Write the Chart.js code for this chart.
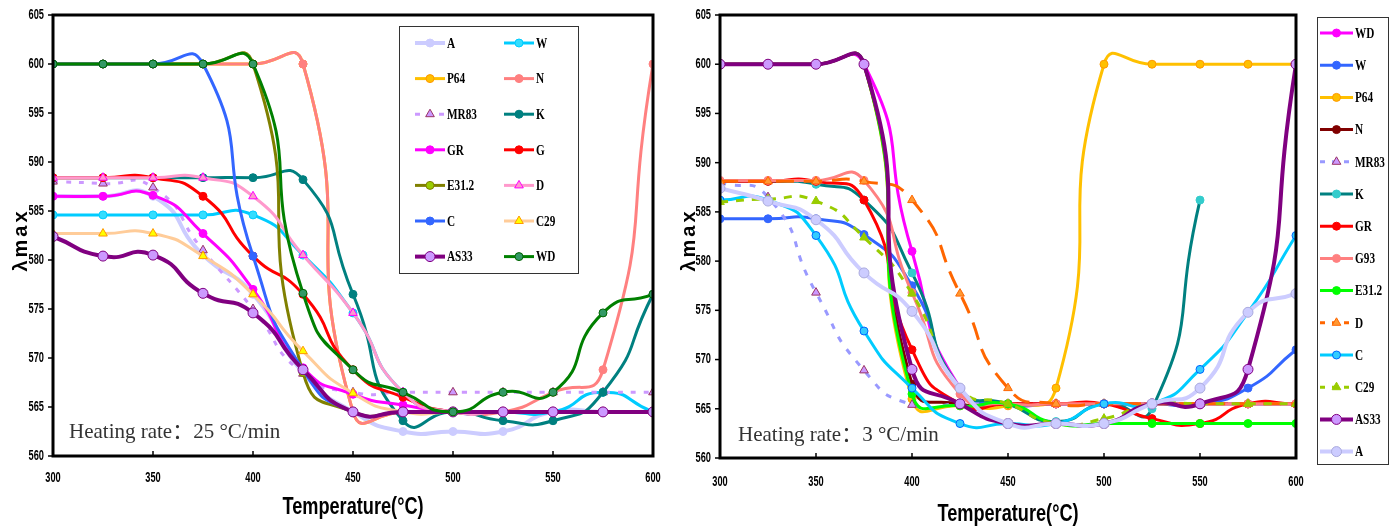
<!DOCTYPE html>
<html lang="en">
<head>
<meta charset="UTF-8">
<title>λmax vs Temperature</title>
<script src="https://cdn.jsdelivr.net/npm/chart.js"></script>
<style>
  html, body { margin: 0; padding: 0; background: #fff; }
  #wrap { position: relative; width: 1398px; height: 526px; overflow: hidden; }
  .layer { position: absolute; left: 0; top: 0; width: 1398px; height: 526px; }
</style>
</head>
<body>
<div id="wrap">
  <div class="layer"><canvas id="chartLeft"></canvas></div>
  <div class="layer"><canvas id="chartRight"></canvas></div>
</div>
<script>
// x positions (°C) shared by every series
const temps = [300, 325, 350, 375, 400, 425, 450, 475, 500, 525, 550, 575, 600];
const yRange = [560, 605];
const xRange = [300, 600];

// ---- left panel : heating rate 25 °C/min ----
const leftA    = [586.5, 586.5, 586.5, 580.5, 576.5, 568.5, 564.5, 562.5, 562.5, 562.5, 564.5, 564.5, 564.5];
const leftW    = [584.6, 584.6, 584.6, 584.6, 584.6, 580.5, 574.6, 566.5, 564.5, 564.5, 564.5, 566.5, 564.5];
const leftP64  = [600, 600, 600, 600, 600, 600, 564.5, 564.5, 564.5, 564.5, 564.5, 564.5, 564.5];
const leftN    = [600, 600, 600, 600, 600, 600, 564.5, 564.5, 564.5, 564.5, 566.5, 568.8, 600];
const leftMR83 = [588.0, 587.8, 587.4, 581.0, 575.0, 568.4, 566.5, 566.5, 566.5, 566.5, 566.5, 566.5, 566.5];
const leftK    = [588.4, 588.4, 588.4, 588.4, 588.4, 588.2, 576.5, 563.6, 564.5, 563.6, 563.6, 566.5, 576.5];
const leftGR   = [586.5, 586.5, 586.6, 582.7, 577.0, 569.0, 566.3, 565.2, 564.5, 564.5, 564.5, 564.5, 564.5];
const leftG    = [588.4, 588.4, 588.4, 586.5, 580.4, 576.5, 568.8, 566.0, 564.5, 564.5, 564.5, 564.5, 564.5];
const leftE312 = [600, 600, 600, 600, 600, 568.5, 564.5, 564.5, 564.5, 564.5, 564.5, 564.5, 564.5];
const leftD    = [588.4, 588.4, 588.4, 588.4, 586.5, 580.5, 574.6, 566.5, 564.5, 564.5, 564.5, 564.5, 564.5];
const leftC    = [600, 600, 600, 600, 580.4, 568.8, 564.5, 564.5, 564.5, 564.5, 564.5, 564.5, 564.5];
const leftC29  = [582.7, 582.7, 582.7, 580.4, 576.5, 570.7, 566.4, 564.5, 564.5, 564.5, 564.5, 564.5, 564.5];
const leftAS33 = [582.4, 580.4, 580.5, 576.6, 574.6, 568.8, 564.5, 564.5, 564.5, 564.5, 564.5, 564.5, 564.5];
const leftWD   = [600, 600, 600, 600, 600, 576.6, 568.8, 566.5, 564.5, 566.5, 566.5, 574.6, 576.5];

// ---- right panel : heating rate 3 °C/min ----
const rightWD   = [600, 600, 600, 600, 581.0, 567.1, 565.5, 565.5, 565.5, 565.5, 565.5, 565.5, 565.5];
const rightW    = [584.3, 584.3, 584.3, 582.7, 577.5, 567.0, 565.5, 565.5, 565.5, 565.5, 565.5, 567.1, 571.0];
const rightP64  = [600, 600, 600, 600, 566.0, 565.3, 565.3, 567.1, 600, 600, 600, 600, 600];
const rightN    = [600, 600, 600, 600, 567.5, 565.5, 565.5, 565.5, 565.5, 565.5, 565.5, 565.5, 565.5];
const rightMR83 = [588.0, 586.5, 576.8, 568.9, 565.4, 565.5, 565.5, 565.5, 565.5, 565.5, 565.5, 565.5, 565.5];
const rightK    = [588.1, 588.1, 587.8, 586.2, 578.8, 567.1, 565.5, 563.7, 565.5, 565.0, 586.2, null, null];
const rightGR   = [588.1, 588.1, 588.1, 586.2, 571.0, 565.5, 565.5, 565.5, 565.5, 564.0, 563.5, 565.5, 565.5];
const rightG93  = [588.2, 588.2, 588.2, 588.2, 576.8, 566.5, 565.5, 565.5, 565.5, 565.5, 565.5, 565.5, 565.5];
const rightE312 = [600, 600, 600, 600, 566.5, 565.3, 565.5, 563.5, 563.5, 563.5, 563.5, 563.5, 563.5];
const rightD    = [588.1, 588.1, 588.1, 588.1, 586.2, 576.7, 567.1, 565.5, 565.5, 565.5, 565.5, 565.5, 565.5];
const rightC    = [586.2, 586.2, 582.6, 572.9, 567.1, 563.5, 563.5, 563.5, 565.5, 565.5, 569.0, 574.8, 582.6];
const rightC29  = [586.0, 586.3, 586.1, 582.4, 576.7, 567.1, 565.5, 563.5, 564.0, 565.5, 565.5, 565.5, 565.5];
const rightAS33 = [600, 600, 600, 600, 569.0, 565.5, 563.5, 563.5, 563.5, 565.5, 565.5, 569.0, 600];
const rightA    = [587.4, 586.1, 584.2, 578.8, 574.9, 567.1, 563.5, 563.5, 563.5, 565.5, 567.1, 574.8, 576.7];

function series(label, values, color, style) {
  const s = Object.assign({ marker: color, edge: color, shape: 'circle', r: 4, w: 3, dash: [] }, style || {});
  return {
    label: label,
    data: temps.map((t, i) => ({ x: t, y: values[i] })),
    borderColor: color,
    borderWidth: s.w,
    borderDash: s.dash,
    pointStyle: s.shape,
    pointRadius: s.r,
    pointBackgroundColor: s.marker,
    pointBorderColor: s.edge,
    pointBorderWidth: 1,
    tension: 0.6,
    spanGaps: false
  };
}

// later series are painted on top of earlier ones
function stack(sets) {
  sets.forEach((ds, i) => { ds.order = sets.length - i; });
  return sets;
}

const leftSets = stack([
  series('A', leftA, '#ccccff', { w: 4 }),
  series('W', leftW, '#00ccff', { marker: '#33ddff' }),
  series('P64', leftP64, '#ffc000', { edge: '#ff9900' }),
  series('N', leftN, '#ff8080'),
  series('MR83', leftMR83, '#cc99ff', { dash: [5, 8], shape: 'triangle', r: 5, edge: '#993366' }),
  series('K', leftK, '#008080'),
  series('GR', leftGR, '#ff00ff'),
  series('G', leftG, '#ff0000'),
  series('E31.2', leftE312, '#808000', { marker: '#99cc00', edge: '#808000' }),
  series('D', leftD, '#ff99cc', { shape: 'triangle', r: 5, edge: '#ff00ff' }),
  series('C', leftC, '#3366ff'),
  series('C29', leftC29, '#ffcc99', { shape: 'triangle', r: 5, marker: '#ffff00', edge: '#ff9900' }),
  series('AS33', leftAS33, '#800080', { w: 4, r: 5, marker: '#cc99ff', edge: '#800080' }),
  series('WD', leftWD, '#008000', { marker: '#339966', edge: '#006600' })
]);

const rightSets = stack([
  series('WD', rightWD, '#ff00ff'),
  series('W', rightW, '#3366ff'),
  series('P64', rightP64, '#ffc000', { edge: '#ff9900' }),
  series('N', rightN, '#800000'),
  series('MR83', rightMR83, '#9999ff', { dash: [6, 9], shape: 'triangle', r: 5, marker: '#cc99ff', edge: '#993366' }),
  series('K', rightK, '#008080', { marker: '#33cccc', edge: '#33cccc' }),
  series('GR', rightGR, '#ff0000'),
  series('G93', rightG93, '#ff8080'),
  series('E31.2', rightE312, '#00ff00'),
  series('D', rightD, '#ff6600', { dash: [18, 10], shape: 'triangle', r: 5, marker: '#ff9933', edge: '#ff6600' }),
  series('C', rightC, '#00ccff', { marker: '#33ccff', edge: '#0066ff' }),
  series('C29', rightC29, '#99cc00', { dash: [8, 8], shape: 'triangle', r: 5 }),
  series('AS33', rightAS33, '#800080', { w: 4, r: 5, marker: '#cc99ff', edge: '#800080' }),
  series('A', rightA, '#ccccff', { w: 4, r: 5, edge: '#aaaadd' })
]);

// narrow text: the original uses condensed faces that are not installed
function narrowText(ctx, text, x, y, sx, align) {
  ctx.save();
  ctx.translate(x, y);
  ctx.scale(sx, 1);
  ctx.textAlign = align;
  ctx.fillText(text, 0, 0);
  ctx.restore();
}

function drawLegend(chart, L) {
  const ctx = chart.ctx;
  ctx.save();
  ctx.fillStyle = '#fff';
  ctx.fillRect(L.x, L.y, L.w, L.h);
  ctx.strokeStyle = '#333';
  ctx.lineWidth = 1;
  ctx.strokeRect(L.x + 0.5, L.y + 0.5, L.w, L.h);
  chart.data.datasets.forEach((ds, i) => {
    const col = i % L.cols, row = Math.floor(i / L.cols);
    const lx = L.x0 + col * L.colW;
    const ly = L.y0 + row * L.rowH;
    ctx.strokeStyle = ds.borderColor;
    ctx.lineWidth = ds.borderWidth;
    ctx.setLineDash(ds.borderDash.length ? [5, 7] : []);
    ctx.beginPath();
    ctx.moveTo(lx, ly);
    ctx.lineTo(lx + L.lineW, ly);
    ctx.stroke();
    ctx.setLineDash([]);
    ctx.fillStyle = ds.pointBackgroundColor;
    ctx.strokeStyle = ds.pointBorderColor;
    ctx.lineWidth = 1;
    Chart.helpers.drawPoint(ctx, { pointStyle: ds.pointStyle, rotation: 0, radius: ds.pointRadius, borderWidth: 1 }, lx + L.lineW / 2, ly);
    ctx.fillStyle = '#000';
    ctx.font = 'bold 15px "Liberation Serif", serif';
    ctx.textBaseline = 'middle';
    narrowText(ctx, ds.label, lx + L.lineW + 2, ly + 1, 0.75, 'left');
  });
  ctx.restore();
}

// frame, tick marks and labels, axis titles, rate note and legend
const decor = {
  id: 'decor',
  afterDraw(chart, args, o) {
    const ctx = chart.ctx, a = chart.chartArea;
    const xs = chart.scales.x, ys = chart.scales.y;
    ctx.save();
    ctx.strokeStyle = '#000';
    ctx.lineWidth = 3;
    ctx.strokeRect(a.left, a.top, a.right - a.left, a.bottom - a.top);

    ctx.lineWidth = 1.5;
    ctx.fillStyle = '#000';
    ctx.textBaseline = 'middle';
    ctx.font = 'bold 14px "Liberation Sans", sans-serif';
    ys.ticks.forEach(t => {
      const py = ys.getPixelForValue(t.value);
      ctx.beginPath(); ctx.moveTo(a.left - 5, py); ctx.lineTo(a.left, py); ctx.stroke();
      narrowText(ctx, String(t.value), a.left - 9, py, 0.66, 'right');
    });
    xs.ticks.forEach(t => {
      const px = xs.getPixelForValue(t.value);
      ctx.beginPath(); ctx.moveTo(px, a.bottom); ctx.lineTo(px, a.bottom - 5); ctx.stroke();
      narrowText(ctx, String(t.value), px, a.bottom + o.xLabelGap, 0.66, 'center');
    });

    ctx.font = 'bold 23px "Liberation Sans", sans-serif';
    narrowText(ctx, 'Temperature(°C)', o.xTitle[0], o.xTitle[1], 0.79, 'center');

    ctx.save();
    ctx.translate(o.yTitle[0], o.yTitle[1]);
    ctx.rotate(-Math.PI / 2);
    ctx.font = 'bold 20px "Liberation Sans", sans-serif';
    ctx.letterSpacing = '3px';
    ctx.textAlign = 'center';
    ctx.fillText('λmax', 0, 0);
    ctx.restore();

    ctx.fillStyle = '#333';
    ctx.textAlign = 'left';
    ctx.font = '21px "Liberation Serif", "Noto Sans CJK SC", serif';
    ctx.fillText(o.note, o.notePos[0], o.notePos[1]);

    drawLegend(chart, o.legend);
    ctx.restore();
  }
};

function makeChart(id, sets, pad, yWidth, xHeight, decorOpts) {
  return new Chart(document.getElementById(id), {
    type: 'line',
    data: { datasets: sets },
    plugins: [decor],
    options: {
      responsive: true,
      maintainAspectRatio: false,
      animation: false,
      layout: { padding: pad },
      plugins: {
        legend: { display: false },
        tooltip: { enabled: false },
        decor: decorOpts
      },
      scales: {
        x: {
          type: 'linear',
          min: xRange[0], max: xRange[1],
          grid: { display: false },
          border: { display: false },
          ticks: { stepSize: 50, display: false },
          afterFit: s => { s.height = xHeight; }
        },
        y: {
          min: yRange[0], max: yRange[1],
          grid: { display: false },
          border: { display: false },
          ticks: { stepSize: 5, display: false },
          afterFit: s => { s.width = yWidth; }
        }
      }
    }
  });
}

makeChart('chartLeft', leftSets, { left: 0, top: 15, right: 745, bottom: 0 }, 53, 70, {
  xLabelGap: 22,
  xTitle: [353, 508],
  yTitle: [21, 240],
  note: 'Heating rate：25 °C/min',
  notePos: [69, 432],
  legend: { x: 399, y: 26, w: 179, h: 247, cols: 2, x0: 415, y0: 43, colW: 89, rowH: 35.6, lineW: 30 }
});

makeChart('chartRight', rightSets, { left: 670, top: 15, right: 102, bottom: 0 }, 50, 68, {
  xLabelGap: 24,
  xTitle: [1008, 515],
  yTitle: [689, 240],
  note: 'Heating rate：3 °C/min',
  notePos: [738, 435],
  legend: { x: 1317, y: 17, w: 71, h: 447, cols: 1, x0: 1320, y0: 33, colW: 0, rowH: 32.2, lineW: 33 }
});
</script>
</body>
</html>
